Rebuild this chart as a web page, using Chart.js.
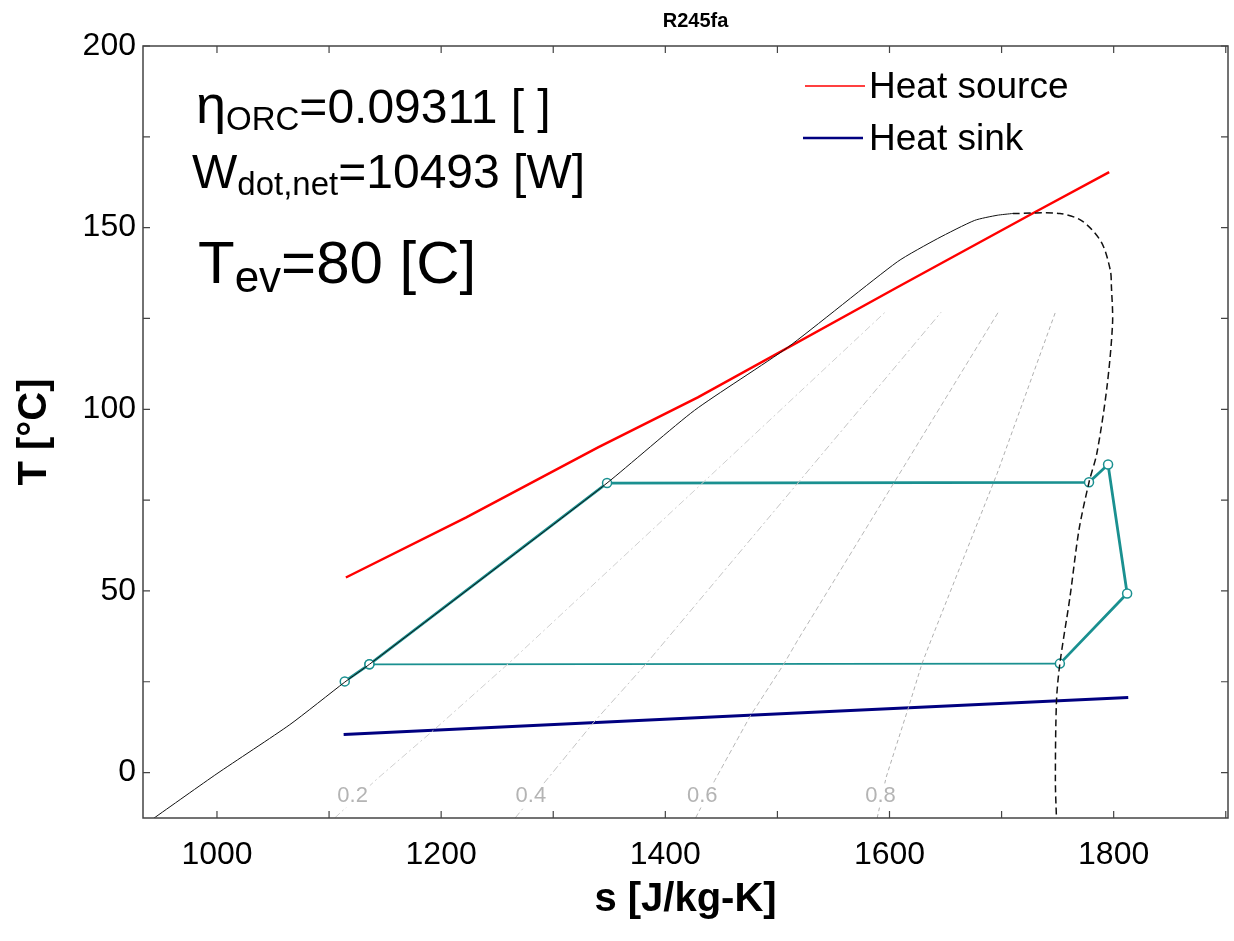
<!DOCTYPE html>
<html>
<head>
<meta charset="utf-8">
<script src="https://cdn.jsdelivr.net/npm/chart.js@4.4.0/dist/chart.umd.min.js"></script>
<style>
  html, body { margin: 0; padding: 0; background: #fff; }
  #wrap { width: 1234px; height: 941px; }
</style>
</head>
<body>
<div id="wrap"><canvas id="tsChart"></canvas></div>
<script>
// entropy s [J/kg-K] and temperature T [C]
const xTicks = [1000, 1200, 1400, 1600, 1800];
const yTicks = [0, 50, 100, 150, 200];

const heatSourceS = [1115, 1222, 1340, 1429, 1607, 1730, 1796];
const heatSourceT = [53.7, 70.2, 89.5, 103.3, 133.6, 154.3, 165.3];

const heatSinkS = [1113, 1470, 1813];
const heatSinkT = [10.5, 15.7, 20.7];

const cycleS = [1114, 1136, 1348, 1778, 1795, 1812, 1752, 1136];
const cycleT = [25.1, 29.8, 79.7, 79.9, 84.8, 49.3, 30.0, 29.8];

const satLiqS = [943, 1000, 1065, 1114, 1136, 1252, 1348, 1426, 1509, 1607, 1643, 1676, 1696, 1710];
const satLiqT = [-12.7, -0.3, 13.2, 24.9, 29.8, 57.0, 79.7, 99.7, 117, 140.6, 147, 152, 153.4, 153.9];

const satVapS = [1710, 1752, 1772, 1789, 1797, 1798, 1799, 1794, 1785, 1778, 1769, 1761, 1752, 1749, 1748, 1749];
const satVapT = [153.9, 153.9, 151.8, 146, 138.3, 133.7, 123.7, 106.1, 87.9, 79.9, 66.7, 48.3, 30, 19.8, -2.2, -13];

// constant quality lines
const qualityNames = ['0.2', '0.4', '0.6', '0.8'];
const q02S = [1105, 1143, 1193, 1260, 1429, 1596];
const q02T = [-12.5, -1.7, 11.6, 30, 78.5, 126.7];
const q04S = [1266, 1296, 1336, 1383, 1519, 1646];
const q04T = [-12.5, -1.3, 13.8, 30, 80, 126.7];
const q06S = [1427, 1444, 1476, 1506, 1518, 1697];
const q06T = [-12.5, -2.2, 15.7, 30, 36.4, 126.7];
const q08S = [1589, 1597, 1617, 1629, 1637, 1696, 1748];
const q08T = [-12.5, -1.3, 18, 30, 36.4, 82.3, 126.7];
const qualityLabelS = [1121, 1280, 1433, 1592];
const qualityLabelT = -6.3;

const FONT = "'Liberation Sans', Arial, sans-serif";

function pts(xs, ys) {
  return xs.map((x, i) => ({ x: x, y: ys[i] }));
}

function qualityLine(xs, ys, color, dash) {
  return {
    data: pts(xs, ys),
    borderColor: color,
    borderWidth: 1,
    borderDash: dash,
    pointRadius: 0,
    showLine: true
  };
}

// draws text pieces one after another: [text, size, baselineShift]
function runText(ctx, x, y, parts) {
  parts.forEach(([txt, size, dy]) => {
    ctx.font = size + 'px ' + FONT;
    ctx.fillText(txt, x, y + dy);
    x += ctx.measureText(txt).width;
  });
}

const tsDecor = {
  id: 'tsDecor',
  afterDatasetsDraw(chart) {
    const { ctx, chartArea: a, scales: { x, y } } = chart;
    ctx.save();

    // quality labels, with a white gap in the line
    ctx.font = '22px ' + FONT;
    ctx.textAlign = 'center';
    ctx.textBaseline = 'middle';
    qualityNames.forEach((name, i) => {
      const px = x.getPixelForValue(qualityLabelS[i]);
      const py = y.getPixelForValue(qualityLabelT);
      const w = ctx.measureText(name).width;
      ctx.fillStyle = '#fff';
      ctx.fillRect(px - w / 2 - 2, py - 12, w + 4, 24);
      ctx.fillStyle = '#b4b4b4';
      ctx.fillText(name, px, py);
    });

    // plot box
    ctx.strokeStyle = '#444';
    ctx.lineWidth = 1.5;
    ctx.strokeRect(a.left, a.top, a.right - a.left, a.bottom - a.top);

    // inward tick marks
    ctx.lineWidth = 1.2;
    ctx.beginPath();
    for (let v = 1000; v <= 1900; v += 100) {
      const px = x.getPixelForValue(v);
      ctx.moveTo(px, a.bottom); ctx.lineTo(px, a.bottom - 7);
      ctx.moveTo(px, a.top); ctx.lineTo(px, a.top + 7);
    }
    for (let v = 0; v <= 200; v += 25) {
      const py = y.getPixelForValue(v);
      ctx.moveTo(a.left, py); ctx.lineTo(a.left + 7, py);
      ctx.moveTo(a.right, py); ctx.lineTo(a.right - 7, py);
    }
    ctx.stroke();

    // title
    ctx.fillStyle = '#000';
    ctx.font = 'bold 20px ' + FONT;
    ctx.textAlign = 'center';
    ctx.textBaseline = 'middle';
    ctx.fillText('R245fa', (a.left + a.right) / 2 + 10, 21);

    // result annotations
    ctx.textAlign = 'left';
    ctx.textBaseline = 'alphabetic';
    runText(ctx, 196, 123, [['\u03b7', 54, 0], ['ORC', 33, 7], ['=0.09311 [ ]', 48, 0]]);
    runText(ctx, 192, 188, [['W', 48, 0], ['dot,net', 33, 7], ['=10493 [W]', 48, 0]]);
    runText(ctx, 198, 283, [['T', 60, 0], ['ev', 44, 9], ['=80 [C]', 60, 0]]);

    // legend
    ctx.textBaseline = 'middle';
    ctx.font = '37px ' + FONT;
    ctx.strokeStyle = '#ff0000';
    ctx.lineWidth = 1.5;
    ctx.beginPath(); ctx.moveTo(805, 86); ctx.lineTo(865, 86); ctx.stroke();
    ctx.fillText('Heat source', 869, 88);
    ctx.strokeStyle = '#000080';
    ctx.lineWidth = 2.5;
    ctx.beginPath(); ctx.moveTo(803, 138); ctx.lineTo(863, 138); ctx.stroke();
    ctx.fillText('Heat sink', 869, 140);

    ctx.restore();
  }
};

new Chart(document.getElementById('tsChart'), {
  type: 'scatter',
  data: {
    datasets: [
      qualityLine(q02S, q02T, '#cfcfcf', [7, 3, 2, 3]),
      qualityLine(q04S, q04T, '#c4c4c4', [7, 3, 2, 3]),
      qualityLine(q06S, q06T, '#b8b8b8', [5, 3]),
      qualityLine(q08S, q08T, '#b0b0b0', [4, 3]),
      {
        label: 'Saturated liquid',
        data: pts(satLiqS, satLiqT),
        borderColor: '#111',
        borderWidth: 1,
        tension: 0.2,
        pointRadius: 0,
        showLine: true
      },
      {
        label: 'Saturated vapor',
        data: pts(satVapS, satVapT),
        borderColor: '#111',
        borderWidth: 1.5,
        borderDash: [7, 4],
        tension: 0.3,
        pointRadius: 0,
        showLine: true
      },
      {
        label: 'Heat sink',
        data: pts(heatSinkS, heatSinkT),
        borderColor: '#000080',
        borderWidth: 3,
        pointRadius: 0,
        showLine: true
      },
      {
        label: 'Heat source',
        data: pts(heatSourceS, heatSourceT),
        borderColor: '#ff0000',
        borderWidth: 2.5,
        pointRadius: 0,
        showLine: true
      },
      {
        label: 'ORC cycle',
        data: pts(cycleS, cycleT),
        borderColor: '#1a9090',
        borderWidth: 2.8,
        segment: {
          borderWidth: ctx => ctx.p0DataIndex === 6 ? 1.8 : 2.8
        },
        pointRadius: 4.5,
        pointBackgroundColor: '#fff',
        pointBorderColor: '#1a9090',
        pointBorderWidth: 1.5,
        showLine: true
      }
    ]
  },
  options: {
    responsive: true,
    maintainAspectRatio: false,
    animation: false,
    layout: {
      padding: { top: 46, right: 5, left: 0, bottom: 0 }
    },
    plugins: {
      legend: { display: false },
      tooltip: { enabled: false }
    },
    scales: {
      x: {
        type: 'linear',
        min: 934,
        max: 1902,
        afterBuildTicks: scale => { scale.ticks = xTicks.map(v => ({ value: v })); },
        afterFit: scale => { scale.height = 123; },
        grid: { display: false, drawTicks: false },
        border: { display: false },
        ticks: {
          padding: 18,
          color: '#000',
          font: { family: FONT, size: 32 },
          maxRotation: 0,
          callback: value => String(value)
        },
        title: {
          display: true,
          text: 's [J/kg-K]',
          color: '#000',
          font: { family: FONT, size: 40, weight: 'bold' },
          padding: { top: 0, bottom: 17 }
        }
      },
      y: {
        type: 'linear',
        min: -12.5,
        max: 200,
        afterBuildTicks: scale => { scale.ticks = yTicks.map(v => ({ value: v })); },
        afterFit: scale => { scale.width = 143; },
        grid: { display: false, drawTicks: false },
        border: { display: false },
        ticks: {
          padding: 7,
          color: '#000',
          font: { family: FONT, size: 32 },
          callback: value => String(value)
        },
        title: {
          display: true,
          text: 'T [°C]',
          color: '#000',
          font: { family: FONT, size: 40, weight: 'bold' },
          padding: { top: 11, bottom: 0 }
        }
      }
    }
  },
  plugins: [tsDecor]
});
</script>
</body>
</html>
